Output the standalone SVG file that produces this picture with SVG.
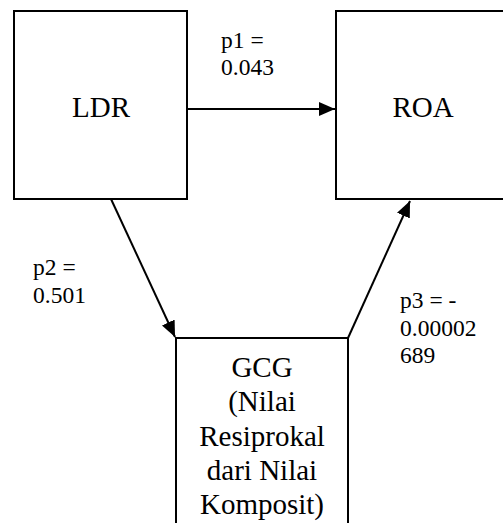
<svg xmlns="http://www.w3.org/2000/svg" width="503" height="523" viewBox="0 0 503 523">
<style>
.box{fill:#fff;stroke:#000;stroke-width:2}
.n{font-size:29px;text-anchor:middle}
.l{font-size:23.5px}
.c{stroke:#000;stroke-width:2;fill:none;marker-end:url(#ah)}
</style>
<defs>
<marker id="ah" viewBox="0 0 16 14" refX="16" refY="7" markerWidth="16" markerHeight="14" markerUnits="userSpaceOnUse" orient="auto">
<path d="M0,0 L16,7 L0,14 Z" fill="#000"/>
</marker>
</defs>
<g font-family="'Liberation Serif', 'DejaVu Serif', serif" fill="#000">
<g id="LDR">
<rect class="box" x="14" y="11" width="173" height="188"/>
<text class="n" x="101" y="117">LDR</text>
</g>
<g id="ROA">
<rect class="box" x="336" y="11" width="175" height="188"/>
<text class="n" x="423" y="117">ROA</text>
</g>
<g id="GCG">
<rect class="box" x="176" y="338" width="172" height="195"/>
<text class="n" x="262" y="377">GCG</text>
<text class="n" x="262" y="411.3">(Nilai</text>
<text class="n" x="262" y="445.6">Resiprokal</text>
<text class="n" x="262" y="479.9">dari Nilai</text>
<text class="n" x="262" y="514.2">Komposit)</text>
</g>
<g id="connectors">
<line class="c" x1="187" y1="109" x2="335" y2="109"/>
<line class="c" x1="111" y1="199" x2="175" y2="337"/>
<line class="c" x1="348" y1="338" x2="410" y2="201"/>
</g>
<g id="labels">
<text class="l" x="221" y="48">p1 =</text>
<text class="l" x="221" y="75">0.043</text>
<text class="l" x="33" y="275">p2 =</text>
<text class="l" x="33" y="303">0.501</text>
<text class="l" x="400" y="308">p3 = -</text>
<text class="l" x="400" y="336">0.00002</text>
<text class="l" x="400" y="363">689</text>
</g>
</g>
</svg>
